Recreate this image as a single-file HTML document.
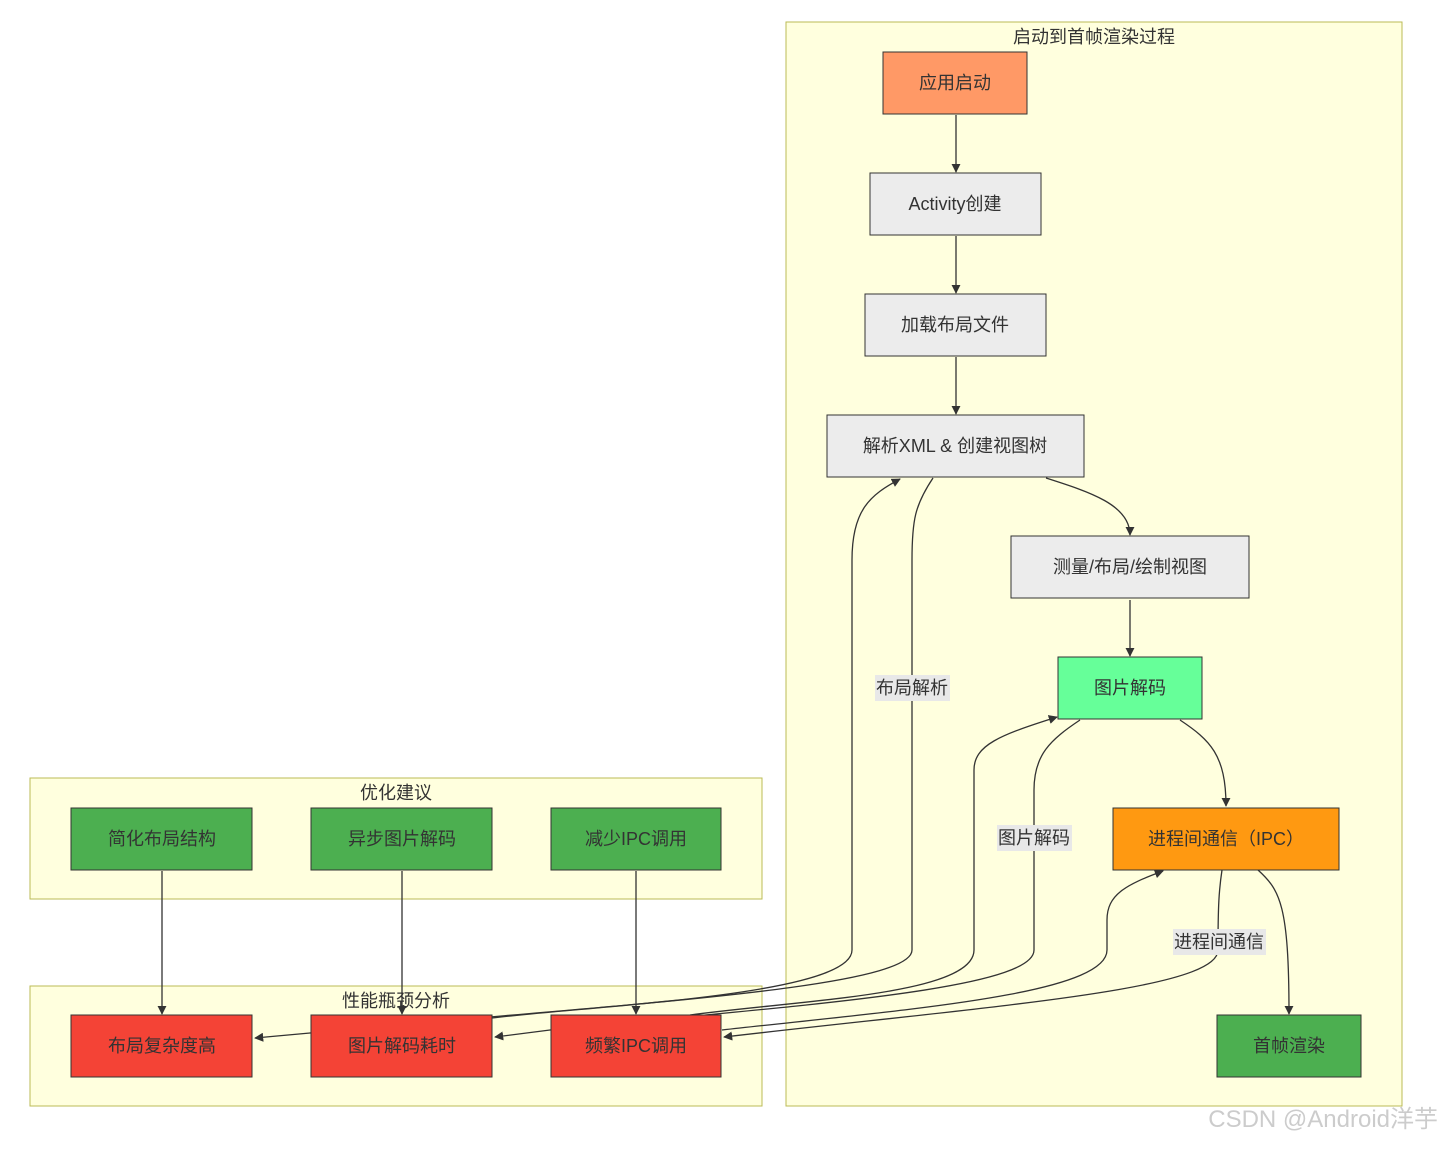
<!DOCTYPE html>
<html><head><meta charset="utf-8"><style>
body{margin:0;background:#fff;}
svg text{font-family:"Liberation Sans","Noto Sans CJK SC",sans-serif;fill:#333;}
</style></head><body>
<svg width="1443" height="1144" viewBox="0 0 1443 1144" xmlns="http://www.w3.org/2000/svg">
<defs><marker id="a" viewBox="0 0 10 10" refX="9" refY="5" markerWidth="7" markerHeight="7" orient="auto"><path d="M0,0L10,5L0,10z" fill="#333"/></marker></defs>
<rect x="786" y="22" width="616" height="1084" fill="#ffffde" stroke="#bbbb55"/>
<rect x="30" y="778" width="732" height="121" fill="#ffffde" stroke="#bbbb55"/>
<rect x="30" y="986" width="732" height="120" fill="#ffffde" stroke="#bbbb55"/>
<g font-size="18" text-anchor="middle">
<text x="1094" y="43">启动到首帧渲染过程</text>
<text x="396" y="799">优化建议</text>
<text x="396" y="1007">性能瓶颈分析</text>
</g>
<g fill="none" stroke="#333" stroke-width="1.3">
<path d="M956,115V172" marker-end="url(#a)"/>
<path d="M956,236V293" marker-end="url(#a)"/>
<path d="M956,357V414" marker-end="url(#a)"/>
<path d="M1046,478C1090,492 1130,505 1130,535" marker-end="url(#a)"/>
<path d="M1130,600V656" marker-end="url(#a)"/>
<path d="M1180,720C1210,740 1226,755 1226,806" marker-end="url(#a)"/>
<path d="M1258,870C1280,890 1289,905 1289,1014" marker-end="url(#a)"/>
<path d="M162,871V1014" marker-end="url(#a)"/>
<path d="M402,871V1014" marker-end="url(#a)"/>
<path d="M636,871V1014" marker-end="url(#a)"/>
<path d="M933,478C915,505 912,520 912,560V950C912,990 600,1005 310,1033L255,1038" marker-end="url(#a)"/>
<path d="M492,1018C600,1005 852,995 852,950V560C852,510 870,495 900,479" marker-end="url(#a)"/>
<path d="M1080,720C1050,740 1034,755 1034,790V950C1034,990 800,1005 550,1030L495,1037" marker-end="url(#a)"/>
<path d="M690,1015C800,1000 974,995 974,950V770C974,745 1000,735 1057,717" marker-end="url(#a)"/>
<path d="M1222,870C1219,890 1218,905 1218,950C1218,990 1000,1005 724,1037" marker-end="url(#a)"/>
<path d="M722,1030C900,1010 1107,995 1107,950V920C1107,895 1125,885 1163,871" marker-end="url(#a)"/>
</g>
<g stroke="#333" stroke-width="1">
<rect x="883" y="52" width="144" height="62" fill="#ff9966"/>
<rect x="870" y="173" width="171" height="62" fill="#ececec"/>
<rect x="865" y="294" width="181" height="62" fill="#ececec"/>
<rect x="827" y="415" width="257" height="62" fill="#ececec"/>
<rect x="1011" y="536" width="238" height="62" fill="#ececec"/>
<rect x="1058" y="657" width="144" height="62" fill="#66ff99"/>
<rect x="1113" y="808" width="226" height="62" fill="#ff9911"/>
<rect x="1217" y="1015" width="144" height="62" fill="#4caf50"/>
<rect x="71" y="808" width="181" height="62" fill="#4caf50"/>
<rect x="311" y="808" width="181" height="62" fill="#4caf50"/>
<rect x="551" y="808" width="170" height="62" fill="#4caf50"/>
<rect x="71" y="1015" width="181" height="62" fill="#f44336"/>
<rect x="311" y="1015" width="181" height="62" fill="#f44336"/>
<rect x="551" y="1015" width="170" height="62" fill="#f44336"/>
</g>
<g fill="#e8e8e8">
<rect x="875" y="675" width="75" height="26"/>
<rect x="997" y="825" width="75" height="26"/>
<rect x="1173" y="929" width="93" height="26"/>
</g>
<g font-size="18" text-anchor="middle">
<text x="955" y="89">应用启动</text>
<text x="955" y="210">Activity创建</text>
<text x="955" y="331">加载布局文件</text>
<text x="955" y="452">解析XML &amp; 创建视图树</text>
<text x="1130" y="573">测量/布局/绘制视图</text>
<text x="1130" y="694">图片解码</text>
<text x="1226" y="845">进程间通信（IPC）</text>
<text x="1289" y="1052">首帧渲染</text>
<text x="162" y="845">简化布局结构</text>
<text x="402" y="845">异步图片解码</text>
<text x="636" y="845">减少IPC调用</text>
<text x="162" y="1052">布局复杂度高</text>
<text x="402" y="1052">图片解码耗时</text>
<text x="636" y="1052">频繁IPC调用</text>
<text x="912" y="694">布局解析</text>
<text x="1034" y="844">图片解码</text>
<text x="1219" y="948">进程间通信</text>
</g>
<text x="1438" y="1127" font-size="24" text-anchor="end" style="fill:#ccc">CSDN @Android洋芋</text>
</svg>
</body></html>
